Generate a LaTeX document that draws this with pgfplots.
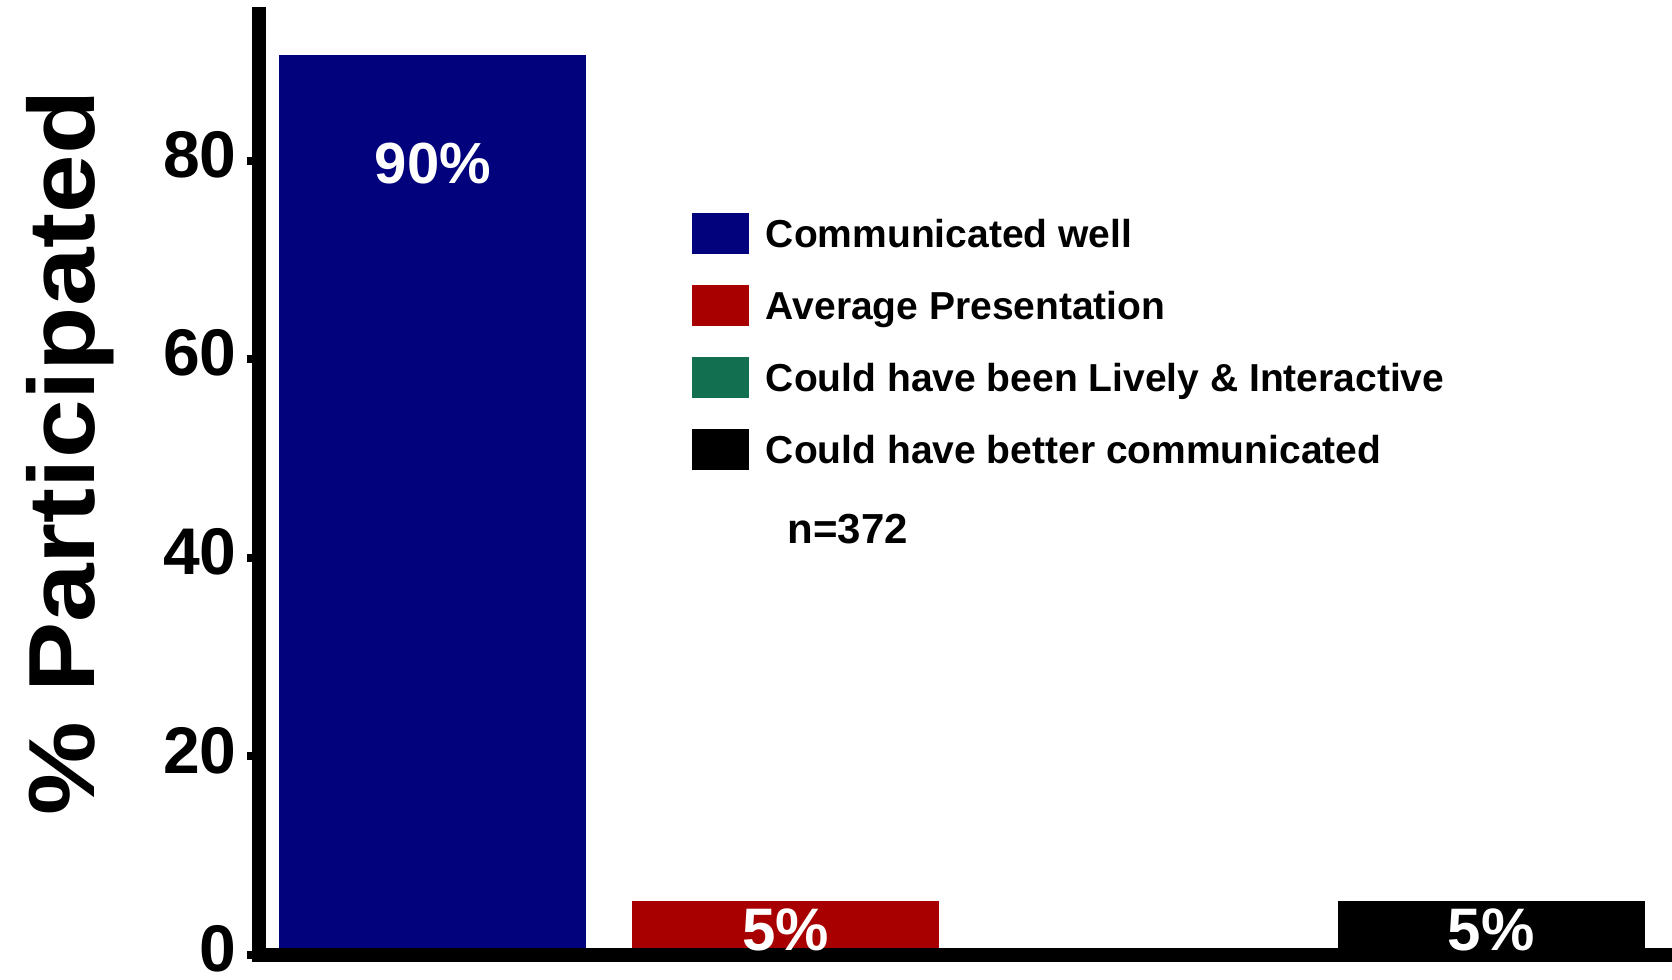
\documentclass[border=0pt]{standalone}
\usepackage{pgfplots}
\pgfplotsset{compat=1.18}
\usepackage{fontspec}
\setmainfont{Liberation Sans}
\newfontfamily\widefont[FakeStretch=1.12]{Liberation Sans}
\definecolor{barblue}{RGB}{2,2,125}
\definecolor{barred}{RGB}{168,0,0}
\definecolor{bargreen}{RGB}{18,112,80}
\pgfplotsset{
  mybar/.style={ybar, bar width=0.87, bar shift=0pt, draw=none, fill=#1,
    legend image code/.code={\fill[fill=#1] (0pt,-10.25pt) rectangle (28.5pt,10.25pt);}},
  barlabel/.style={point meta=explicit,
    nodes near coords={\pgfmathprintnumber{\pgfplotspointmeta}\%},
    every node near coord/.append style={anchor=center, yshift=#1, text=white, inner sep=0pt}},
}
\begin{document}
\begin{tikzpicture}
\begin{axis}[
  name=ax,
  at={(0pt,0pt)}, anchor=south west,
  scale only axis,
  width=706.5pt, height=470.5pt,
  xmin=-0.493, xmax=3.513,
  ymin=0, ymax=94.76,
  enlargelimits=false,
  axis x line=bottom, axis y line=left,
  axis line style={-, line width=7pt, line cap=rect, black},
  axis on top,
  xtick=\empty,
  ytick={0,20,40,60,80},
  tick align=outside,
  major tick length=6pt,
  every tick/.style={black, line width=4pt},
  /pgf/number format/assume math mode=true,
  yticklabel style={anchor=east, inner sep=0pt, xshift=-5pt, yshift=3pt, font=\fontsize{33}{40}\selectfont\bfseries},
  ylabel={\% Participated},
  every axis y label/.style={at={(axis description cs:-0.1161,0.5335)}, anchor=base, rotate=90, font=\fontsize{47}{56}\selectfont\widefont\bfseries},
  legend style={at={(axis description cs:0.3064,0.7882)}, anchor=north west, draw=none, fill=none, inner sep=0pt, outer sep=0pt, row sep=15.5pt, font=\fontsize{19.5}{23}\selectfont\bfseries, nodes={inner sep=0pt, text height=14pt, text depth=0pt}, /tikz/every odd column/.append style={column sep=8.5pt}},
  legend cell align=left,
  clip=false,
]
\addplot[mybar=barblue, barlabel=-54pt, every node near coord/.append style={font=\fontsize{29}{34}\selectfont\bfseries}] coordinates {(0,90.6) [90]};
\addlegendentry{Communicated well}
\addplot[mybar=barred, barlabel=-14.3pt, every node near coord/.append style={font=\fontsize{30}{36}\selectfont\bfseries}] coordinates {(1,5.4) [5]};
\addlegendentry{Average Presentation}
\addplot[mybar=bargreen] coordinates {(2,0)};
\addlegendentry{Could have been Lively \& Interactive}
\addplot[mybar=black, barlabel=-14.3pt, every node near coord/.append style={font=\fontsize{30}{36}\selectfont\bfseries}] coordinates {(3,5.4) [5]};
\addlegendentry{Could have better communicated}
\node[font=\fontsize{21}{25}\selectfont\bfseries, anchor=center] at (rel axis cs:0.4168,0.4522) {n=372};
\end{axis}
\pgfresetboundingbox
\path[use as bounding box] (-129.5pt,-12.5pt) rectangle (706.5pt,477.5pt);
\end{tikzpicture}
\end{document}
